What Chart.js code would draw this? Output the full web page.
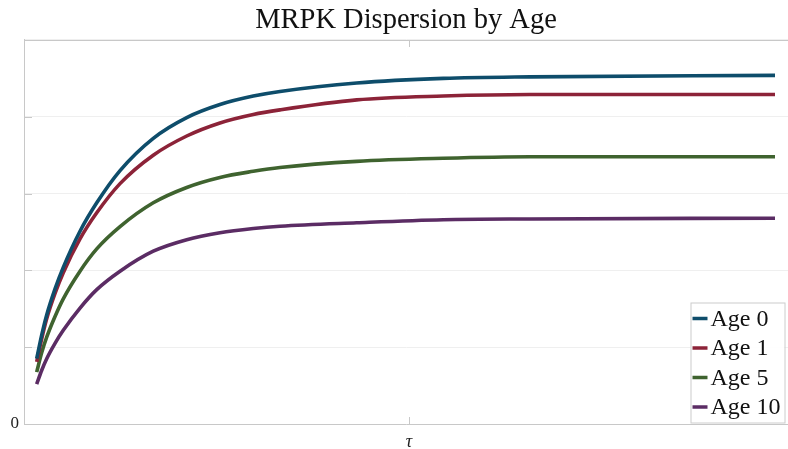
<!DOCTYPE html>
<html>
<head>
<meta charset="utf-8">
<script src="https://cdn.jsdelivr.net/npm/chart.js@4/dist/chart.umd.min.js"></script>
<style>
  html, body { margin: 0; padding: 0; background: #ffffff; }
  #wrap { width: 788px; height: 449px; }
</style>
</head>
<body>
<div id="wrap"><canvas id="c" width="788" height="449"></canvas></div>
<script>
// Horizon tau (normalised) and MRPK dispersion for each firm age
const tau   = [0.0166, 0.0232, 0.0297, 0.0406, 0.0514, 0.0733, 0.0952, 0.1257, 0.1692, 0.2130, 0.2565, 0.3001, 0.3351, 0.4355, 0.5488, 0.6623, 0.9830];
const age0  = [0.85, 1.16, 1.42, 1.76, 2.04, 2.51, 2.88, 3.30, 3.72, 3.99, 4.16, 4.27, 4.33, 4.44, 4.50, 4.52, 4.54];
const age1  = [0.81, 1.11, 1.37, 1.70, 1.97, 2.41, 2.75, 3.13, 3.50, 3.75, 3.92, 4.03, 4.09, 4.22, 4.27, 4.29, 4.29];
const age5  = [0.675, 0.93, 1.13, 1.40, 1.63, 1.99, 2.28, 2.57, 2.88, 3.08, 3.21, 3.29, 3.34, 3.42, 3.46, 3.48, 3.48];
const age10 = [0.52, 0.70, 0.85, 1.05, 1.22, 1.51, 1.75, 1.99, 2.25, 2.40, 2.49, 2.545, 2.575, 2.62, 2.66, 2.67, 2.68];

const seriesNames  = ['Age 0', 'Age 1', 'Age 5', 'Age 10'];
const seriesValues = [age0, age1, age5, age10];
const seriesColors = ['#0e4d6b', '#8c2338', '#3f632f', '#5b2c64'];

const xTickValues = [0.504];
const xTickLabels = ['τ'];
const yTickLabels = { 0: '0' };

const SERIF = '"Liberation Serif", "DejaVu Serif", serif';

const datasets = seriesNames.map((name, i) => ({
  label: name,
  data: tau.map((t, k) => ({ x: t, y: seriesValues[i][k] })),
  borderColor: seriesColors[i],
  backgroundColor: seriesColors[i],
  borderWidth: 3.6,
  pointRadius: 0,
  cubicInterpolationMode: 'monotone',
  fill: false
}));

// Frame: top edge and inward tick marks
const framePlugin = {
  id: 'frame',
  afterDraw(chart) {
    const { ctx, chartArea: a, scales } = chart;
    ctx.save();
    ctx.strokeStyle = '#c8c8c8';
    ctx.lineWidth = 1;
    ctx.beginPath();
    ctx.moveTo(a.left, a.top + 0.5);
    ctx.lineTo(a.right, a.top + 0.5);
    scales.y.ticks.forEach(t => {
      const y = Math.round(scales.y.getPixelForValue(t.value)) + 0.5;
      ctx.moveTo(a.left, y);
      ctx.lineTo(a.left + 8, y);
    });
    scales.x.ticks.forEach(t => {
      const x = Math.round(scales.x.getPixelForValue(t.value)) + 0.5;
      ctx.moveTo(x, a.bottom);
      ctx.lineTo(x, a.bottom - 7);
      ctx.moveTo(x, a.top);
      ctx.lineTo(x, a.top + 7);
    });
    ctx.stroke();
    ctx.restore();
  }
};

// Boxed legend in the lower-right corner of the plot
const boxLegendPlugin = {
  id: 'boxLegend',
  afterDatasetsDraw(chart) {
    const { ctx, chartArea: a } = chart;
    const rowH = 29.5;
    const boxW = 94, boxH = 120;
    const x0 = a.right - boxW - 3.5, y0 = a.bottom - boxH - 1.5;
    ctx.save();
    ctx.fillStyle = 'rgba(255,255,255,0.9)';
    ctx.fillRect(x0, y0, boxW, boxH);
    ctx.strokeStyle = '#cccccc';
    ctx.lineWidth = 1;
    ctx.strokeRect(x0 + 0.5, y0 + 0.5, boxW, boxH);
    ctx.font = '24px ' + SERIF;
    ctx.textBaseline = 'middle';
    ctx.textAlign = 'left';
    chart.data.datasets.forEach((ds, i) => {
      const cy = y0 + 16 + i * rowH;
      ctx.strokeStyle = ds.borderColor;
      ctx.lineWidth = 3.5;
      ctx.beginPath();
      ctx.moveTo(x0 + 2, cy);
      ctx.lineTo(x0 + 17, cy);
      ctx.stroke();
      ctx.fillStyle = '#111111';
      ctx.fillText(ds.label, x0 + 20, cy + 1);
    });
    ctx.restore();
  }
};

new Chart(document.getElementById('c'), {
  type: 'line',
  data: { datasets },
  plugins: [framePlugin, boxLegendPlugin],
  options: {
    responsive: false,
    animation: false,
    layout: { padding: { left: 0, right: 0, top: 0, bottom: 0 } },
    plugins: {
      legend: { display: false },
      tooltip: { enabled: false },
      title: {
        display: true,
        fullSize: false,
        text: 'MRPK Dispersion by Age',
        color: '#111111',
        font: { family: SERIF, size: 28.5, weight: 'normal', lineHeight: 1.2 },
        padding: { top: 3, bottom: 2.8 }
      }
    },
    scales: {
      x: {
        type: 'linear',
        min: 0,
        max: 1,
        afterBuildTicks(scale) { scale.ticks = xTickValues.map(v => ({ value: v })); },
        afterFit(scale) { scale.height = 25; },
        grid: { display: false, drawTicks: false },
        border: { display: true, color: '#c8c8c8', width: 1 },
        ticks: {
          padding: 7,
          color: '#222222',
          font: { family: SERIF, size: 18, style: 'italic' },
          maxRotation: 0,
          callback: (v, i) => xTickLabels[i]
        }
      },
      y: {
        type: 'linear',
        min: 0,
        max: 5,
        afterFit(scale) { scale.width = 24; },
        grid: { color: '#efefef', lineWidth: 1, drawTicks: false },
        border: { display: true, color: '#c8c8c8', width: 1 },
        ticks: {
          stepSize: 1,
          padding: 5,
          color: '#222222',
          font: { family: SERIF, size: 17 },
          callback: v => (yTickLabels[v] !== undefined ? yTickLabels[v] : '')
        }
      }
    }
  }
});
</script>
</body>
</html>
